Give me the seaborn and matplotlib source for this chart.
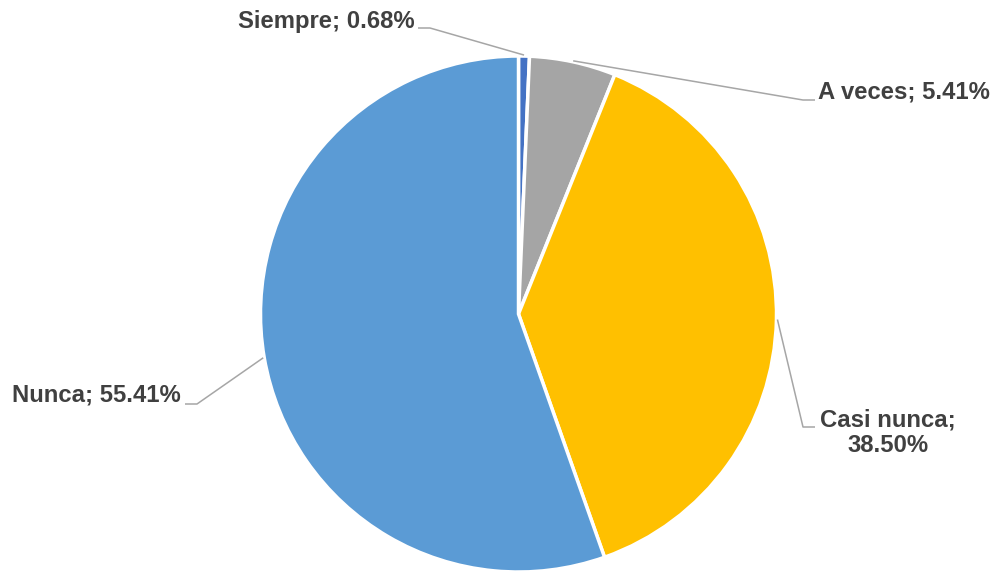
import numpy as np
import matplotlib.pyplot as plt
import seaborn as sns

# data
categories = ["Siempre", "A veces", "Casi nunca", "Nunca"]
values = [0.68, 5.41, 38.50, 55.41]
label_texts = ["Siempre; 0.68%", "A veces; 5.41%", "Casi nunca;\n38.50%", "Nunca; 55.41%"]
colors = ["#4472C4", "#A5A5A5", "#FFC000", "#5B9BD5"]

sns.set_theme(style="white")
plt.rcParams['font.family'] = ['Liberation Sans', 'DejaVu Sans']

W, H = 995, 571
fig = plt.figure(figsize=(W / 100, H / 100), dpi=100)
ax = fig.add_axes([0, 0, 1, 1])

center = (518.5, H - 314)
radius = 258

wedges, _ = ax.pie(values, colors=colors, startangle=90, counterclock=False,
                   center=center, radius=radius,
                   wedgeprops=dict(edgecolor="white", linewidth=2.5))

ax.set_xlim(0, W)
ax.set_ylim(0, H)
ax.set_aspect("equal")
ax.axis("off")

# label layout (pixel positions, y measured from top): elbow, line end, text pos, alignment
layout = [
    dict(elbow=(430, 28), end=(418, 28), text=(415, 21), ha="right"),
    dict(elbow=(803, 100), end=(815, 100), text=(818, 92), ha="left"),
    dict(elbow=(803, 427), end=(815, 427), text=(888, 433), ha="center"),
    dict(elbow=(197, 404), end=(185, 404), text=(181, 395), ha="right"),
]

line_color = "#A6A6A6"
for w, lab, lay in zip(wedges, label_texts, layout):
    mid = np.deg2rad((w.theta1 + w.theta2) / 2)
    ax_x = center[0] + (radius + 1) * np.cos(mid)
    ax_y = center[1] + (radius + 1) * np.sin(mid)
    ex, ey = lay["elbow"]
    nx, ny = lay["end"]
    ax.plot([ax_x, ex, nx], [ax_y, H - ey, H - ny], color=line_color, lw=1.1,
            solid_capstyle="butt", zorder=1)
    tx, ty = lay["text"]
    ax.text(tx, H - ty, lab, ha=lay["ha"], va="center", fontsize=17.2,
            fontweight="bold", color="#404040", multialignment="center",
            linespacing=1.15)

fig.savefig("out.png", dpi=100)
